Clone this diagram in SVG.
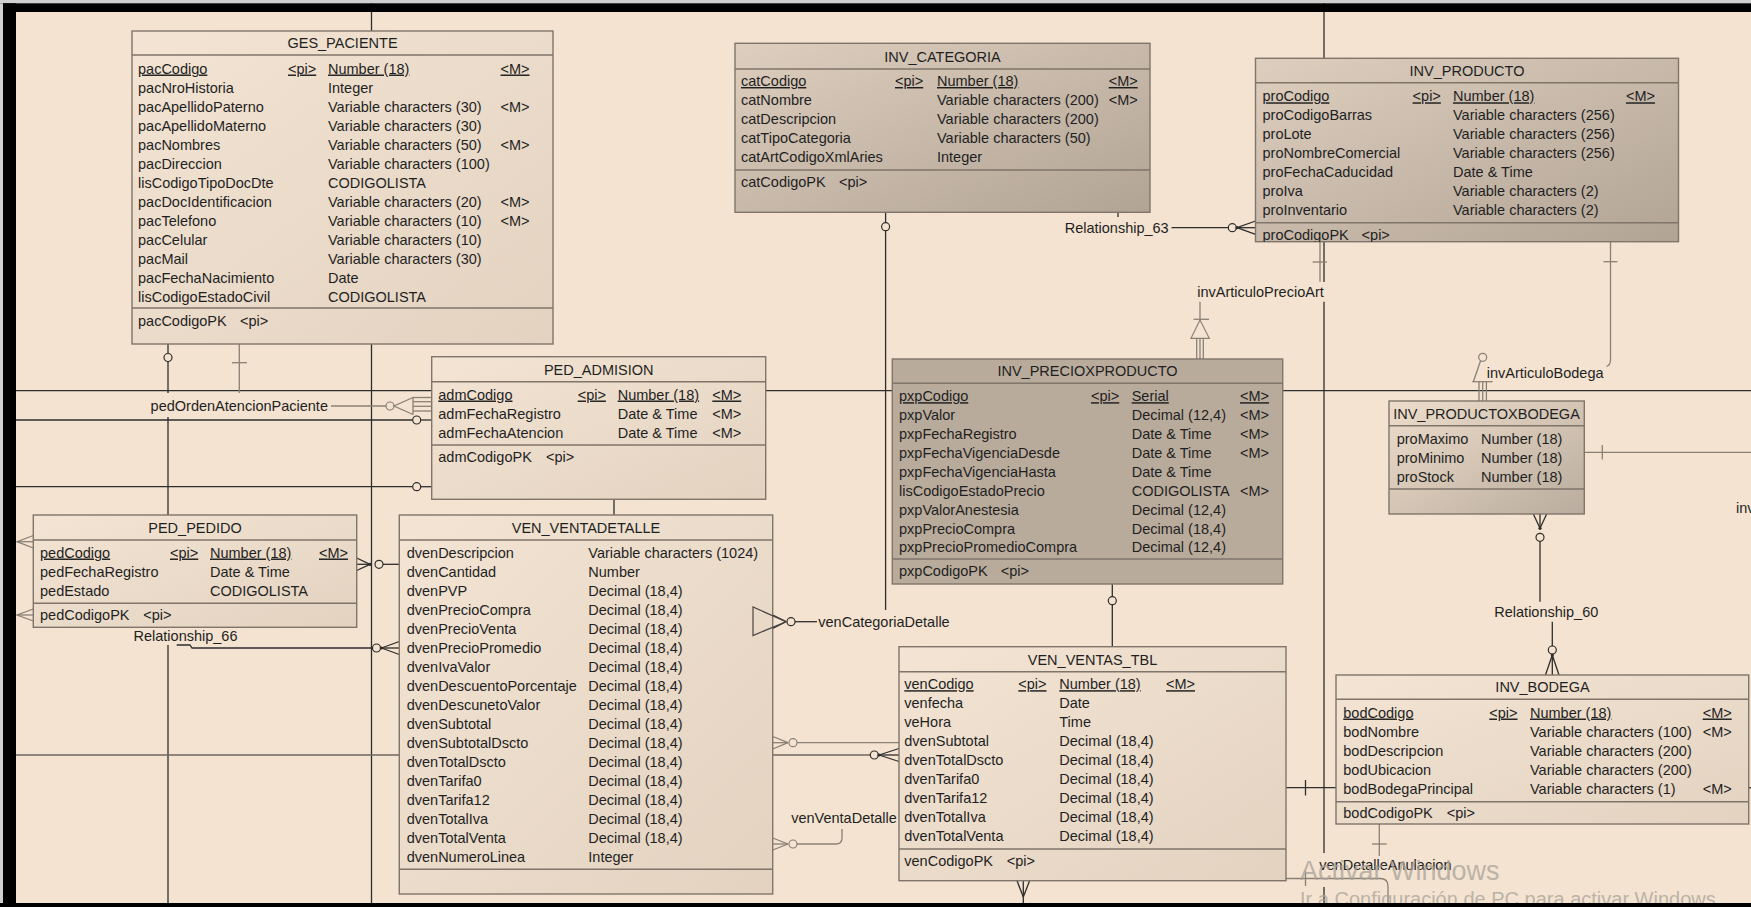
<svg xmlns="http://www.w3.org/2000/svg" width="1751" height="907" viewBox="0 0 1751 907">
<defs>
<linearGradient id="gL" x1="0" y1="0" x2="1" y2="1"><stop offset="0" stop-color="#F3E4D3"/><stop offset="1" stop-color="#E3D2C0"/></linearGradient>
<linearGradient id="gT" x1="0" y1="0" x2="1" y2="1"><stop offset="0" stop-color="#DDCEBE"/><stop offset="1" stop-color="#B2A495"/></linearGradient>
<linearGradient id="gB" x1="0" y1="0" x2="1" y2="1"><stop offset="0" stop-color="#EEDDCB"/><stop offset="1" stop-color="#B9AC9E"/></linearGradient>
<clipPath id="cpProd"><rect x="1255.5" y="58.3" width="423" height="183.4"/></clipPath>
<style>
.box{stroke:#7f756b;stroke-width:1.4}
.dv{stroke:#7f756b;stroke-width:1.4}
.t{font-family:"Liberation Sans",Arial,sans-serif;font-size:14.5px;fill:#1f1f1f}
.c{text-anchor:middle}
.u{text-decoration:underline}
.k{stroke:#2e2e2e;stroke-width:1.3;fill:none}
.g{stroke:#8a8076;stroke-width:1.3;fill:none}
.o{stroke:#2e2e2e;stroke-width:1.2;fill:#F3E3D0}
.og{stroke:#8a8076;stroke-width:1.2;fill:#F3E3D0}
.dot{fill:#2e2e2e}
</style>
</defs>
<rect x="0" y="0" width="1751" height="907" fill="#F3E3D0"/>

<g id="connectors">
<line class="k" x1="371.5" y1="0" x2="371.5" y2="31"/>
<line class="k" x1="371.5" y1="344" x2="371.5" y2="907"/>
<line class="k" x1="1324" y1="0" x2="1324" y2="58.3"/>
<line class="k" x1="1324" y1="241.7" x2="1324" y2="282"/>
<line class="k" x1="1324" y1="301.7" x2="1324" y2="853"/>
<line class="k" x1="1324" y1="887" x2="1324" y2="907"/>
<line class="k" x1="0" y1="390.7" x2="431.7" y2="390.7"/>
<line class="k" x1="765.7" y1="390.7" x2="892.3" y2="390.7"/>
<line class="k" x1="1282.7" y1="390.7" x2="1751" y2="390.7"/>
<line class="k" x1="168" y1="344" x2="168" y2="353.5"/>
<circle class="o" cx="168" cy="357.5" r="4"/>
<line class="k" x1="168" y1="361.5" x2="168" y2="393"/>
<line class="k" x1="168" y1="417" x2="168" y2="515"/>
<line class="g" x1="239.3" y1="344" x2="239.3" y2="393"/>
<line class="g" x1="232" y1="362.7" x2="247" y2="362.7"/>
<text class="t c" x="239.3" y="411">pedOrdenAtencionPaciente</text>
<line class="g" x1="331" y1="406" x2="386" y2="406"/>
<circle class="og" cx="390" cy="406" r="4"/>
<polyline class="g" points="413,397.5 394,406 413,414.5"/>
<line class="g" x1="413" y1="397.5" x2="413" y2="414.5"/>
<line class="g" x1="413" y1="397.5" x2="431.7" y2="397.5"/>
<line class="g" x1="413" y1="401.7" x2="431.7" y2="401.7"/>
<line class="g" x1="413" y1="406.3" x2="431.7" y2="406.3"/>
<line class="g" x1="413" y1="411" x2="431.7" y2="411"/>
<line class="k" x1="0" y1="420" x2="412.7" y2="420"/>
<circle class="o" cx="416.7" cy="420" r="4"/>
<line class="k" x1="420.7" y1="420" x2="431.7" y2="420"/>
<line class="k" x1="0" y1="486.7" x2="412.7" y2="486.7"/>
<circle class="o" cx="416.7" cy="486.7" r="4"/>
<line class="k" x1="420.7" y1="486.7" x2="431.7" y2="486.7"/>
<line class="k" x1="614" y1="499.3" x2="614" y2="515"/>
<polyline class="g" points="33.3,535.5 17,541.7 33.3,548"/>
<line class="g" x1="17" y1="541.7" x2="33.3" y2="541.7"/>
<polyline class="g" points="33.3,609 17,615 33.3,621"/>
<line class="g" x1="17" y1="615" x2="33.3" y2="615"/>
<line class="k" x1="356.7" y1="558" x2="370" y2="564.3"/>
<line class="k" x1="356.7" y1="570.5" x2="370" y2="564.3"/>
<line class="k" x1="356.7" y1="564.3" x2="370" y2="564.3"/>
<circle class="dot" cx="370" cy="564.3" r="1.6"/>
<circle class="o" cx="379" cy="564.3" r="4"/>
<line class="k" x1="383" y1="564.3" x2="399.3" y2="564.3"/>
<text class="t c" x="185.5" y="640.7">Relationship_66</text>
<line class="k" x1="168" y1="645" x2="168" y2="907"/>
<polyline class="k" points="176.7,645 190,645 192,648 372.5,648"/>
<circle class="o" cx="376.5" cy="648" r="4"/>
<circle class="dot" cx="381.5" cy="648" r="1.6"/>
<line class="k" x1="381.5" y1="648" x2="399.3" y2="641.5"/>
<line class="k" x1="381.5" y1="648" x2="399.3" y2="648"/>
<line class="k" x1="381.5" y1="648" x2="399.3" y2="654.5"/>
<line x1="0" y1="755" x2="870.3" y2="755" stroke="#6e665e" stroke-width="1.3"/>
<circle class="o" cx="874.3" cy="755" r="4"/>
<circle class="dot" cx="879" cy="755" r="1.6"/>
<line class="k" x1="879" y1="755" x2="899" y2="748.5"/>
<line class="k" x1="879" y1="755" x2="899" y2="755"/>
<line class="k" x1="879" y1="755" x2="899" y2="761.5"/>
<line class="g" x1="772.7" y1="736.5" x2="788" y2="742.7"/>
<line class="g" x1="772.7" y1="749" x2="788" y2="742.7"/>
<line class="g" x1="772.7" y1="742.7" x2="788" y2="742.7"/>
<circle class="og" cx="793" cy="742.7" r="4"/>
<line class="g" x1="797" y1="742.7" x2="899" y2="742.7"/>
<line class="g" x1="772.7" y1="838" x2="788" y2="844"/>
<line class="g" x1="772.7" y1="850" x2="788" y2="844"/>
<line class="g" x1="772.7" y1="844" x2="788" y2="844"/>
<circle class="og" cx="793" cy="844" r="4"/>
<path class="g" d="M797,844 H836 Q842,844 842,838 V829"/>
<text class="t c" x="844" y="823.3">venVentaDetalle</text>
<line class="k" x1="885.6" y1="212.3" x2="885.6" y2="222.7"/>
<circle class="o" cx="885.6" cy="226.7" r="4"/>
<line class="k" x1="885.6" y1="230.7" x2="885.6" y2="610"/>
<line class="k" x1="772.7" y1="615" x2="786" y2="621.7"/>
<line class="k" x1="772.7" y1="628.5" x2="786" y2="621.7"/>
<circle class="o" cx="791" cy="621.7" r="4"/>
<line class="k" x1="795" y1="621.7" x2="817" y2="621.7"/>
<text class="t" x="818.3" y="626.7">venCategoriaDetalle</text>
<line class="k" x1="1118" y1="212.3" x2="1118" y2="217"/>
<text class="t" x="1064.7" y="232.7">Relationship_63</text>
<line class="k" x1="1171.5" y1="227.7" x2="1228.3" y2="227.7"/>
<circle class="o" cx="1232.3" cy="227.7" r="4"/>
<circle class="dot" cx="1237" cy="227.7" r="1.6"/>
<line class="k" x1="1237" y1="227.7" x2="1255.5" y2="221"/>
<line class="k" x1="1237" y1="227.7" x2="1255.5" y2="227.7"/>
<line class="k" x1="1237" y1="227.7" x2="1255.5" y2="234.4"/>
<line class="g" x1="1320" y1="241.7" x2="1320" y2="281.7"/>
<line class="g" x1="1312.5" y1="262" x2="1327" y2="262"/>
<text class="t c" x="1260.5" y="296.7">invArticuloPrecioArt</text>
<line class="g" x1="1200" y1="301.7" x2="1200" y2="320"/>
<line class="g" x1="1193.5" y1="319.3" x2="1209" y2="319.3"/>
<polygon points="1200,320 1191,338.3 1209.3,338.3" fill="none" stroke="#8a8076" stroke-width="1.2"/>
<line class="g" x1="1196.7" y1="338.3" x2="1196.7" y2="359"/>
<line class="g" x1="1200" y1="338.3" x2="1200" y2="359"/>
<line class="g" x1="1203.3" y1="338.3" x2="1203.3" y2="359"/>
<path class="g" d="M1610.5,241.7 V360 Q1610.5,365 1606.5,366.5"/>
<line class="g" x1="1603.4" y1="261.7" x2="1617.4" y2="261.7"/>
<text class="t" x="1486.7" y="377.7">invArticuloBodega</text>
<circle class="og" cx="1482.7" cy="357.3" r="4"/>
<line class="g" x1="1480.5" y1="361" x2="1473.3" y2="381.7"/>
<line class="g" x1="1472.3" y1="381.7" x2="1492.7" y2="381.7"/>
<line class="g" x1="1479" y1="381.7" x2="1479" y2="401"/>
<line class="g" x1="1482.7" y1="381.7" x2="1482.7" y2="401"/>
<line class="g" x1="1486.4" y1="381.7" x2="1486.4" y2="401"/>
<line class="g" x1="1584.3" y1="452.3" x2="1751" y2="452.3"/>
<line class="g" x1="1602.3" y1="445" x2="1602.3" y2="459.5"/>
<text class="t" x="1736" y="513.3">inv</text>
<line class="k" x1="1533.3" y1="514" x2="1540" y2="528.3"/>
<line class="k" x1="1546.7" y1="514" x2="1540" y2="528.3"/>
<line class="k" x1="1540" y1="514" x2="1540" y2="528.3"/>
<circle class="dot" cx="1540" cy="528.3" r="1.6"/>
<circle class="o" cx="1540" cy="537.3" r="4"/>
<line class="k" x1="1540" y1="541.3" x2="1540" y2="601.7"/>
<text class="t c" x="1546.3" y="617.3">Relationship_60</text>
<line class="k" x1="1552.3" y1="621.7" x2="1552.3" y2="646"/>
<circle class="o" cx="1552.3" cy="650" r="4"/>
<circle class="dot" cx="1552.3" cy="655" r="1.6"/>
<line class="k" x1="1552.3" y1="655" x2="1545.5" y2="675"/>
<line class="k" x1="1552.3" y1="655" x2="1552.3" y2="675"/>
<line class="k" x1="1552.3" y1="655" x2="1559" y2="675"/>
<line class="k" x1="1286" y1="787.7" x2="1336" y2="787.7"/>
<line class="k" x1="1305.5" y1="780" x2="1305.5" y2="795.5"/>
<line class="k" x1="1748.7" y1="787.7" x2="1751" y2="787.7"/>
<line class="g" x1="1379.3" y1="824" x2="1379.3" y2="856"/>
<line class="g" x1="1372" y1="844" x2="1386.7" y2="844"/>
<text class="t" x="1319.3" y="870">venDetalleAnulacion</text>
<path class="g" d="M1286,878.5 H1380 Q1388,878.5 1388,886 V907"/>
<line class="g" x1="1305.5" y1="871" x2="1305.5" y2="886"/>
<line class="k" x1="1017" y1="880.7" x2="1023.3" y2="897"/>
<line class="k" x1="1029.6" y1="880.7" x2="1023.3" y2="897"/>
<line class="k" x1="1023.3" y1="880.7" x2="1023.3" y2="907"/>
<line class="k" x1="1112.3" y1="584" x2="1112.3" y2="596.7"/>
<circle class="o" cx="1112.3" cy="600.7" r="4"/>
<line class="k" x1="1112.3" y1="604.7" x2="1112.3" y2="646.7"/>
</g>

<g id="GES_PACIENTE">
<rect class="box" x="132" y="31" width="421" height="313" fill="url(#gL)"/>
<line class="dv" x1="132" y1="55" x2="553" y2="55"/>
<line class="dv" x1="132" y1="308" x2="553" y2="308"/>
<text class="t c" x="342.5" y="48">GES_PACIENTE</text>
<text class="t u" x="138" y="73.5">pacCodigo</text><text class="t u" x="288" y="73.5">&lt;pi&gt;</text><text class="t u" x="328" y="73.5">Number (18)</text><text class="t u" x="500.5" y="73.5">&lt;M&gt;</text>
<text class="t" x="138" y="92.5">pacNroHistoria</text><text class="t" x="328" y="92.5">Integer</text>
<text class="t" x="138" y="111.5">pacApellidoPaterno</text><text class="t" x="328" y="111.5">Variable characters (30)</text><text class="t" x="500.5" y="111.5">&lt;M&gt;</text>
<text class="t" x="138" y="130.5">pacApellidoMaterno</text><text class="t" x="328" y="130.5">Variable characters (30)</text>
<text class="t" x="138" y="149.5">pacNombres</text><text class="t" x="328" y="149.5">Variable characters (50)</text><text class="t" x="500.5" y="149.5">&lt;M&gt;</text>
<text class="t" x="138" y="168.5">pacDireccion</text><text class="t" x="328" y="168.5">Variable characters (100)</text>
<text class="t" x="138" y="187.5">lisCodigoTipoDocDte</text><text class="t" x="328" y="187.5">CODIGOLISTA</text>
<text class="t" x="138" y="206.5">pacDocIdentificacion</text><text class="t" x="328" y="206.5">Variable characters (20)</text><text class="t" x="500.5" y="206.5">&lt;M&gt;</text>
<text class="t" x="138" y="225.5">pacTelefono</text><text class="t" x="328" y="225.5">Variable characters (10)</text><text class="t" x="500.5" y="225.5">&lt;M&gt;</text>
<text class="t" x="138" y="244.5">pacCelular</text><text class="t" x="328" y="244.5">Variable characters (10)</text>
<text class="t" x="138" y="263.5">pacMail</text><text class="t" x="328" y="263.5">Variable characters (30)</text>
<text class="t" x="138" y="282.5">pacFechaNacimiento</text><text class="t" x="328" y="282.5">Date</text>
<text class="t" x="138" y="301.5">lisCodigoEstadoCivil</text><text class="t" x="328" y="301.5">CODIGOLISTA</text>
<text class="t" x="138" y="326">pacCodigoPK</text><text class="t" x="240" y="326">&lt;pi&gt;</text>
</g>

<g id="INV_CATEGORIA">
<rect class="box" x="735" y="43.3" width="415" height="169" fill="url(#gT)"/>
<line class="dv" x1="735" y1="69" x2="1150" y2="69"/>
<line class="dv" x1="735" y1="170" x2="1150" y2="170"/>
<text class="t c" x="942.5" y="62">INV_CATEGORIA</text>
<text class="t u" x="741" y="86">catCodigo</text><text class="t u" x="895" y="86">&lt;pi&gt;</text><text class="t u" x="937" y="86">Number (18)</text><text class="t u" x="1108.7" y="86">&lt;M&gt;</text>
<text class="t" x="741" y="105">catNombre</text><text class="t" x="937" y="105">Variable characters (200)</text><text class="t" x="1108.7" y="105">&lt;M&gt;</text>
<text class="t" x="741" y="124">catDescripcion</text><text class="t" x="937" y="124">Variable characters (200)</text>
<text class="t" x="741" y="143">catTipoCategoria</text><text class="t" x="937" y="143">Variable characters (50)</text>
<text class="t" x="741" y="162">catArtCodigoXmlAries</text><text class="t" x="937" y="162">Integer</text>
<text class="t" x="741" y="187">catCodigoPK</text><text class="t" x="839" y="187">&lt;pi&gt;</text>
</g>

<g id="INV_PRODUCTO">
<rect class="box" x="1255.5" y="58.3" width="423" height="183.4" fill="url(#gT)"/>
<line class="dv" x1="1255.5" y1="82.7" x2="1678.5" y2="82.7"/>
<line class="dv" x1="1255.5" y1="222.7" x2="1678.5" y2="222.7"/>
<text class="t c" x="1467" y="76">INV_PRODUCTO</text>
<text class="t u" x="1262.5" y="101.3">proCodigo</text><text class="t u" x="1412.6" y="101.3">&lt;pi&gt;</text><text class="t u" x="1453" y="101.3">Number (18)</text><text class="t u" x="1626" y="101.3">&lt;M&gt;</text>
<text class="t" x="1262.5" y="120.3">proCodigoBarras</text><text class="t" x="1453" y="120.3">Variable characters (256)</text>
<text class="t" x="1262.5" y="139.3">proLote</text><text class="t" x="1453" y="139.3">Variable characters (256)</text>
<text class="t" x="1262.5" y="158.3">proNombreComercial</text><text class="t" x="1453" y="158.3">Variable characters (256)</text>
<text class="t" x="1262.5" y="177.3">proFechaCaducidad</text><text class="t" x="1453" y="177.3">Date &amp; Time</text>
<text class="t" x="1262.5" y="196.3">proIva</text><text class="t" x="1453" y="196.3">Variable characters (2)</text>
<text class="t" x="1262.5" y="215.3">proInventario</text><text class="t" x="1453" y="215.3">Variable characters (2)</text>
<g clip-path="url(#cpProd)"><text class="t" x="1262.5" y="240">proCodigoPK</text><text class="t" x="1361.6" y="240">&lt;pi&gt;</text></g>
</g>

<g id="PED_ADMISION">
<rect class="box" x="431.7" y="356.7" width="334" height="142.6" fill="url(#gL)"/>
<line class="dv" x1="431.7" y1="381.7" x2="765.7" y2="381.7"/>
<line class="dv" x1="431.7" y1="445" x2="765.7" y2="445"/>
<text class="t c" x="598.7" y="374.5">PED_ADMISION</text>
<text class="t u" x="438.3" y="399.5">admCodigo</text><text class="t u" x="577.7" y="399.5">&lt;pi&gt;</text><text class="t u" x="617.7" y="399.5">Number (18)</text><text class="t u" x="712.3" y="399.5">&lt;M&gt;</text>
<text class="t" x="438.3" y="418.5">admFechaRegistro</text><text class="t" x="617.7" y="418.5">Date &amp; Time</text><text class="t" x="712.3" y="418.5">&lt;M&gt;</text>
<text class="t" x="438.3" y="437.5">admFechaAtencion</text><text class="t" x="617.7" y="437.5">Date &amp; Time</text><text class="t" x="712.3" y="437.5">&lt;M&gt;</text>
<text class="t" x="438.3" y="462">admCodigoPK</text><text class="t" x="546" y="462">&lt;pi&gt;</text>
</g>

<g id="INV_PRECIOXPRODUCTO">
<rect class="box" x="892.3" y="359" width="390.4" height="225" fill="#B9AB9B"/>
<line class="dv" x1="892.3" y1="383.3" x2="1282.7" y2="383.3"/>
<line class="dv" x1="892.3" y1="559" x2="1282.7" y2="559"/>
<text class="t c" x="1087.5" y="376">INV_PRECIOXPRODUCTO</text>
<text class="t u" x="899" y="401.2">pxpCodigo</text><text class="t u" x="1091" y="401.2">&lt;pi&gt;</text><text class="t u" x="1131.7" y="401.2">Serial</text><text class="t u" x="1240" y="401.2">&lt;M&gt;</text>
<text class="t" x="899" y="420.1">pxpValor</text><text class="t" x="1131.7" y="420.1">Decimal (12,4)</text><text class="t" x="1240" y="420.1">&lt;M&gt;</text>
<text class="t" x="899" y="439">pxpFechaRegistro</text><text class="t" x="1131.7" y="439">Date &amp; Time</text><text class="t" x="1240" y="439">&lt;M&gt;</text>
<text class="t" x="899" y="457.9">pxpFechaVigenciaDesde</text><text class="t" x="1131.7" y="457.9">Date &amp; Time</text><text class="t" x="1240" y="457.9">&lt;M&gt;</text>
<text class="t" x="899" y="476.8">pxpFechaVigenciaHasta</text><text class="t" x="1131.7" y="476.8">Date &amp; Time</text>
<text class="t" x="899" y="495.7">lisCodigoEstadoPrecio</text><text class="t" x="1131.7" y="495.7">CODIGOLISTA</text><text class="t" x="1240" y="495.7">&lt;M&gt;</text>
<text class="t" x="899" y="514.6">pxpValorAnestesia</text><text class="t" x="1131.7" y="514.6">Decimal (12,4)</text>
<text class="t" x="899" y="533.5">pxpPrecioCompra</text><text class="t" x="1131.7" y="533.5">Decimal (18,4)</text>
<text class="t" x="899" y="552.4">pxpPrecioPromedioCompra</text><text class="t" x="1131.7" y="552.4">Decimal (12,4)</text>
<text class="t" x="899" y="576">pxpCodigoPK</text><text class="t" x="1000.7" y="576">&lt;pi&gt;</text>
</g>

<g id="INV_PRODUCTOXBODEGA">
<rect class="box" x="1389" y="401" width="195.3" height="113" fill="url(#gB)"/>
<line class="dv" x1="1389" y1="425.7" x2="1584.3" y2="425.7"/>
<line class="dv" x1="1389" y1="489" x2="1584.3" y2="489"/>
<text class="t c" x="1486.5" y="418.5">INV_PRODUCTOXBODEGA</text>
<text class="t" x="1396.7" y="443.5">proMaximo</text><text class="t" x="1481" y="443.5">Number (18)</text>
<text class="t" x="1396.7" y="462.5">proMinimo</text><text class="t" x="1481" y="462.5">Number (18)</text>
<text class="t" x="1396.7" y="481.5">proStock</text><text class="t" x="1481" y="481.5">Number (18)</text>
</g>

<g id="PED_PEDIDO">
<rect class="box" x="33.3" y="515" width="323.4" height="112.3" fill="url(#gL)"/>
<line class="dv" x1="33.3" y1="540" x2="356.7" y2="540"/>
<line class="dv" x1="33.3" y1="603.3" x2="356.7" y2="603.3"/>
<text class="t c" x="195" y="532.5">PED_PEDIDO</text>
<text class="t u" x="40" y="557.5">pedCodigo</text><text class="t u" x="170" y="557.5">&lt;pi&gt;</text><text class="t u" x="210" y="557.5">Number (18)</text><text class="t u" x="319" y="557.5">&lt;M&gt;</text>
<text class="t" x="40" y="576.5">pedFechaRegistro</text><text class="t" x="210" y="576.5">Date &amp; Time</text>
<text class="t" x="40" y="595.5">pedEstado</text><text class="t" x="210" y="595.5">CODIGOLISTA</text>
<text class="t" x="40" y="620.2">pedCodigoPK</text><text class="t" x="143.3" y="620.2">&lt;pi&gt;</text>
</g>

<g id="VEN_VENTADETALLE">
<rect class="box" x="399.3" y="515" width="373.4" height="379" fill="url(#gL)"/>
<line class="dv" x1="399.3" y1="540" x2="772.7" y2="540"/>
<line class="dv" x1="399.3" y1="869.3" x2="772.7" y2="869.3"/>
<text class="t c" x="586" y="532.5">VEN_VENTADETALLE</text>
<text class="t" x="406.7" y="557.5">dvenDescripcion</text><text class="t" x="588.3" y="557.5">Variable characters (1024)</text>
<text class="t" x="406.7" y="576.5">dvenCantidad</text><text class="t" x="588.3" y="576.5">Number</text>
<text class="t" x="406.7" y="595.5">dvenPVP</text><text class="t" x="588.3" y="595.5">Decimal (18,4)</text>
<text class="t" x="406.7" y="614.5">dvenPrecioCompra</text><text class="t" x="588.3" y="614.5">Decimal (18,4)</text>
<text class="t" x="406.7" y="633.5">dvenPrecioVenta</text><text class="t" x="588.3" y="633.5">Decimal (18,4)</text>
<text class="t" x="406.7" y="652.5">dvenPrecioPromedio</text><text class="t" x="588.3" y="652.5">Decimal (18,4)</text>
<text class="t" x="406.7" y="671.5">dvenIvaValor</text><text class="t" x="588.3" y="671.5">Decimal (18,4)</text>
<text class="t" x="406.7" y="690.5">dvenDescuentoPorcentaje</text><text class="t" x="588.3" y="690.5">Decimal (18,4)</text>
<text class="t" x="406.7" y="709.5">dvenDescunetoValor</text><text class="t" x="588.3" y="709.5">Decimal (18,4)</text>
<text class="t" x="406.7" y="728.5">dvenSubtotal</text><text class="t" x="588.3" y="728.5">Decimal (18,4)</text>
<text class="t" x="406.7" y="747.5">dvenSubtotalDscto</text><text class="t" x="588.3" y="747.5">Decimal (18,4)</text>
<text class="t" x="406.7" y="766.5">dvenTotalDscto</text><text class="t" x="588.3" y="766.5">Decimal (18,4)</text>
<text class="t" x="406.7" y="785.5">dvenTarifa0</text><text class="t" x="588.3" y="785.5">Decimal (18,4)</text>
<text class="t" x="406.7" y="804.5">dvenTarifa12</text><text class="t" x="588.3" y="804.5">Decimal (18,4)</text>
<text class="t" x="406.7" y="823.5">dvenTotalIva</text><text class="t" x="588.3" y="823.5">Decimal (18,4)</text>
<text class="t" x="406.7" y="842.5">dvenTotalVenta</text><text class="t" x="588.3" y="842.5">Decimal (18,4)</text>
<text class="t" x="406.7" y="861.5">dvenNumeroLinea</text><text class="t" x="588.3" y="861.5">Integer</text>
</g>

<g id="VEN_VENTAS_TBL">
<rect class="box" x="899" y="646.7" width="387" height="234" fill="url(#gL)"/>
<line class="dv" x1="899" y1="671.7" x2="1286" y2="671.7"/>
<line class="dv" x1="899" y1="849" x2="1286" y2="849"/>
<text class="t c" x="1092.5" y="665.2">VEN_VENTAS_TBL</text>
<text class="t u" x="904.3" y="689.2">venCodigo</text><text class="t u" x="1018.3" y="689.2">&lt;pi&gt;</text><text class="t u" x="1059.3" y="689.2">Number (18)</text><text class="t u" x="1166" y="689.2">&lt;M&gt;</text>
<text class="t" x="904.3" y="708.2">venfecha</text><text class="t" x="1059.3" y="708.2">Date</text>
<text class="t" x="904.3" y="727.2">veHora</text><text class="t" x="1059.3" y="727.2">Time</text>
<text class="t" x="904.3" y="746.2">dvenSubtotal</text><text class="t" x="1059.3" y="746.2">Decimal (18,4)</text>
<text class="t" x="904.3" y="765.2">dvenTotalDscto</text><text class="t" x="1059.3" y="765.2">Decimal (18,4)</text>
<text class="t" x="904.3" y="784.2">dvenTarifa0</text><text class="t" x="1059.3" y="784.2">Decimal (18,4)</text>
<text class="t" x="904.3" y="803.2">dvenTarifa12</text><text class="t" x="1059.3" y="803.2">Decimal (18,4)</text>
<text class="t" x="904.3" y="822.2">dvenTotalIva</text><text class="t" x="1059.3" y="822.2">Decimal (18,4)</text>
<text class="t" x="904.3" y="841.2">dvenTotalVenta</text><text class="t" x="1059.3" y="841.2">Decimal (18,4)</text>
<text class="t" x="904.3" y="866">venCodigoPK</text><text class="t" x="1006.7" y="866">&lt;pi&gt;</text>
</g>

<g id="INV_BODEGA">
<rect class="box" x="1336" y="675" width="412.7" height="149" fill="url(#gL)"/>
<line class="dv" x1="1336" y1="699.3" x2="1748.7" y2="699.3"/>
<line class="dv" x1="1336" y1="801.7" x2="1748.7" y2="801.7"/>
<text class="t c" x="1542.5" y="692">INV_BODEGA</text>
<text class="t u" x="1343.3" y="717.5">bodCodigo</text><text class="t u" x="1489.3" y="717.5">&lt;pi&gt;</text><text class="t u" x="1530" y="717.5">Number (18)</text><text class="t u" x="1702.7" y="717.5">&lt;M&gt;</text>
<text class="t" x="1343.3" y="736.5">bodNombre</text><text class="t" x="1530" y="736.5">Variable characters (100)</text><text class="t" x="1702.7" y="736.5">&lt;M&gt;</text>
<text class="t" x="1343.3" y="755.5">bodDescripcion</text><text class="t" x="1530" y="755.5">Variable characters (200)</text>
<text class="t" x="1343.3" y="774.5">bodUbicacion</text><text class="t" x="1530" y="774.5">Variable characters (200)</text>
<text class="t" x="1343.3" y="793.5">bodBodegaPrincipal</text><text class="t" x="1530" y="793.5">Variable characters (1)</text><text class="t" x="1702.7" y="793.5">&lt;M&gt;</text>
<text class="t" x="1343.3" y="818">bodCodigoPK</text><text class="t" x="1446.7" y="818">&lt;pi&gt;</text>
</g>

<g id="connector-overlay">
<polygon points="753,607 753,635.5 786,621.7" fill="none" stroke="#4a4540" stroke-width="1.2"/>
</g>

<g id="watermark">
<text x="1300" y="880" font-family="'Liberation Sans',Arial,sans-serif" font-size="27" fill="#a9a29a" fill-opacity="0.75">Activar Windows</text>
<text x="1300" y="906" font-family="'Liberation Sans',Arial,sans-serif" font-size="20" fill="#a9a29a" fill-opacity="0.75">Ir a Configuración de PC para activar Windows</text>
</g>

<g id="frame">
<rect x="0" y="0" width="1751" height="3.3" fill="#cfcfcf"/>
<rect x="0" y="3.3" width="1751" height="8.7" fill="#000"/>
<rect x="0" y="3.3" width="3" height="903.7" fill="#cfcfcf"/>
<rect x="3" y="3.3" width="13" height="903.7" fill="#000"/>
<rect x="0" y="903" width="1751" height="4" fill="#000"/>
</g>
</svg>
